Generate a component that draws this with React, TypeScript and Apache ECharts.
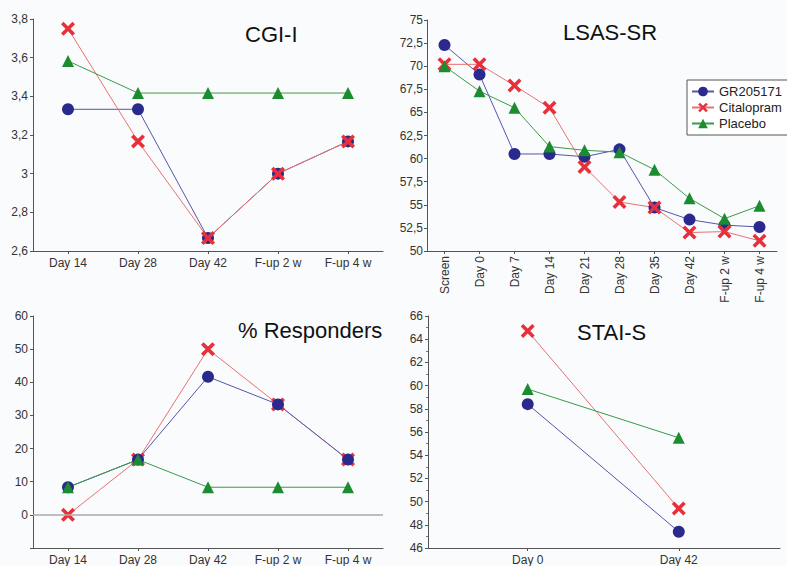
import React, { useEffect, useRef } from "react";
import * as echarts from "echarts";

const cgiCats = ["Day 14", "Day 28", "Day 42", "F-up 2 w", "F-up 4 w"];
const cgiGR = [3.333, 3.333, 2.667, 3.0, 3.167];
const cgiCit = [3.75, 3.167, 2.667, 3.0, 3.167];
const cgiPla = [3.583, 3.417, 3.417, 3.417, 3.417];

const lsasCats = ["Screen", "Day 0", "Day 7", "Day 14", "Day 21", "Day 28", "Day 35", "Day 42", "F-up 2 w", "F-up 4 w"];
const lsasGR = [72.3, 69.1, 60.5, 60.5, 60.2, 61.0, 54.7, 53.4, 52.8, 52.6];
const lsasCit = [70.2, 70.2, 67.9, 65.5, 59.1, 55.3, 54.7, 52.0, 52.1, 51.1];
const lsasPla = [70.0, 67.3, 65.5, 61.3, 60.9, 60.7, 58.8, 55.7, 53.5, 54.9];

const respCats = ["Day 14", "Day 28", "Day 42", "F-up 2 w", "F-up 4 w"];
const respGR = [8.33, 16.67, 41.67, 33.33, 16.67];
const respCit = [0, 16.67, 50, 33.33, 16.67];
const respPla = [8.33, 16.67, 8.33, 8.33, 8.33];

const staiCats = ["Day 0", "Day 42"];
const staiGR = [58.4, 47.4];
const staiCit = [64.7, 49.4];
const staiPla = [59.7, 55.5];

const FONT = "'Liberation Sans', Arial, sans-serif";
const XSYM = "path://M0,1.8L1.8,0L5,3.2L8.2,0L10,1.8L6.8,5L10,8.2L8.2,10L5,6.8L1.8,10L0,8.2L3.2,5Z";

const styles: Record<string, any> = {
  GR205171: { symbol: "circle", symbolSize: 12, mk: "#2a2a8e", ln: "#5555aa" },
  Citalopram: { symbol: XSYM, symbolSize: 14, mk: "#e8303a", ln: "#e87272" },
  Placebo: { symbol: "triangle", symbolSize: 12, mk: "#1b8c30", ln: "#3a9a48" },
};

function mk(name: string, idx: number, data: any[], extra: any = {}) {
  const s = styles[name];
  return {
    type: "line",
    name,
    xAxisIndex: idx,
    yAxisIndex: idx,
    data,
    symbol: s.symbol,
    symbolSize: s.symbolSize,
    itemStyle: { color: s.mk },
    lineStyle: { color: s.ln, width: 1 },
    ...extra,
  };
}

const fmt = (v: number) => String(Math.round(v * 100) / 100).replace(".", ",");

const axisLine = { show: true, onZero: false, lineStyle: { color: "#555", width: 1 } };
const yLabel = { color: "#333", fontSize: 12, fontFamily: FONT, margin: 5, formatter: fmt };
const xLabel = { color: "#333", fontSize: 12, fontFamily: FONT, margin: 6 };
const tick = { show: true, length: 3, lineStyle: { color: "#555" } };

export default function App() {
  const ref = useRef<HTMLDivElement>(null);
  useEffect(() => {
    const chart = echarts.init(ref.current!, null, { renderer: "svg" });
    const titleStyle = { fontSize: 22, fontWeight: "normal", color: "#111", fontFamily: FONT };
    const option: any = {
      animation: false,
      backgroundColor: "#fafbfc",
      textStyle: { fontFamily: FONT },
      title: [
        { text: "CGI-I", left: 245, top: 23, padding: 0, textStyle: titleStyle },
        { text: "LSAS-SR", left: 563, top: 21, padding: 0, textStyle: titleStyle },
        { text: "% Responders", left: 238, top: 319, padding: 0, textStyle: titleStyle },
        { text: "STAI-S", left: 577, top: 321, padding: 0, textStyle: titleStyle },
      ],
      legend: {
        data: ["GR205171", "Citalopram", "Placebo"],
        orient: "vertical",
        left: 687,
        top: 80,
        padding: [5, 6, 5, 4],
        itemGap: 3,
        itemWidth: 22,
        itemHeight: 12,
        borderColor: "#555",
        borderWidth: 1,
        backgroundColor: "#fff",
        textStyle: { fontSize: 13, color: "#222", fontFamily: FONT },
      },
      grid: [
        { left: 33, top: 19, width: 350, height: 232 },
        { left: 427, top: 20, width: 350, height: 231 },
        { left: 33, top: 316, width: 350, height: 232 },
        { left: 428, top: 316, width: 352, height: 232 },
      ],
      xAxis: [
        {
          gridIndex: 0, type: "category", data: cgiCats, boundaryGap: true,
          axisLine, axisTick: { ...tick, alignWithLabel: true },
          axisLabel: xLabel, splitLine: { show: false },
        },
        {
          gridIndex: 1, type: "category", data: lsasCats, boundaryGap: true,
          axisLine, axisTick: { ...tick, alignWithLabel: true },
          axisLabel: { ...xLabel, rotate: 90, margin: 5, interval: 0 }, splitLine: { show: false },
        },
        {
          gridIndex: 2, type: "category", data: respCats, boundaryGap: true,
          axisLine, axisTick: { ...tick, alignWithLabel: true },
          axisLabel: xLabel, splitLine: { show: false },
        },
        {
          gridIndex: 3, type: "value", min: -0.66, max: 1.67,
          axisLine,
          axisTick: { ...tick, customValues: [0, 1] },
          axisLabel: { ...xLabel, customValues: [0, 1], formatter: (v: number) => staiCats[Math.round(v)] ?? "" },
          splitLine: { show: false },
        },
      ],
      yAxis: [
        {
          gridIndex: 0, type: "value", min: 2.6, max: 3.8, interval: 0.2,
          axisLine, axisTick: tick,
          axisLabel: yLabel, splitLine: { show: false },
        },
        {
          gridIndex: 1, type: "value", min: 50, max: 75, interval: 2.5,
          axisLine, axisTick: tick,
          axisLabel: { ...yLabel, margin: 4 }, splitLine: { show: false },
        },
        {
          gridIndex: 2, type: "value", min: -10, max: 60, interval: 10,
          axisLine, axisTick: tick,
          axisLabel: { ...yLabel, formatter: (v: number) => (v === -10 ? "" : String(v)) }, splitLine: { show: false },
        },
        {
          gridIndex: 3, type: "value", min: 46, max: 66, interval: 2,
          axisLine, axisTick: tick,
          minorTick: { show: true, splitNumber: 2, length: 2, lineStyle: { color: "#777" } },
          axisLabel: yLabel, splitLine: { show: false },
        },
      ],
      series: [
        mk("GR205171", 0, cgiGR),
        mk("Citalopram", 0, cgiCit),
        mk("Placebo", 0, cgiPla),
        mk("GR205171", 1, lsasGR),
        mk("Citalopram", 1, lsasCit),
        mk("Placebo", 1, lsasPla),
        mk("Citalopram", 2, respCit, {
          markLine: {
            silent: true, symbol: "none", label: { show: false },
            lineStyle: { color: "#aaa", type: "solid", width: 1.5 },
            data: [{ yAxis: 0 }],
          },
        }),
        mk("GR205171", 2, respGR),
        mk("Placebo", 2, respPla),
        mk("GR205171", 3, staiGR.map((v, i) => [i, v])),
        mk("Citalopram", 3, staiCit.map((v, i) => [i, v])),
        mk("Placebo", 3, staiPla.map((v, i) => [i, v])),
      ],
    };
    chart.setOption(option);
    return () => chart.dispose();
  }, []);
  return <div ref={ref} style={{ position: "fixed", left: 0, top: 0, width: 787, height: 566 }} />;
}
